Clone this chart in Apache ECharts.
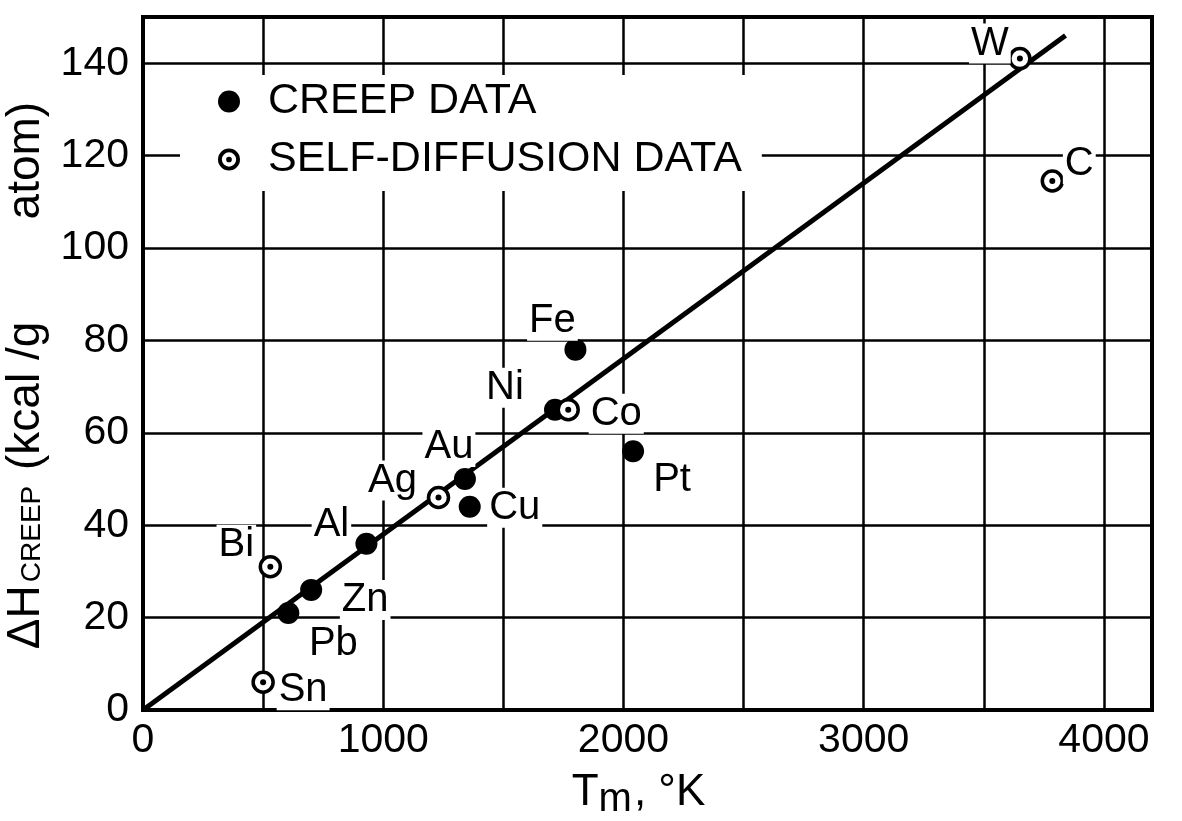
<!DOCTYPE html>
<html>
<head>
<meta charset="utf-8">
<script src="https://cdn.jsdelivr.net/npm/echarts@6/dist/echarts.min.js"></script>
<style>
  html, body { margin: 0; padding: 0; background: #fff; }
  #chart { width: 1182px; height: 821px; }
</style>
</head>
<body>
<div id="chart"></div>
<script>
// Creep activation energy vs. melting temperature
const creepMetals = ['Pb', 'Zn', 'Al', 'Au', 'Cu', 'Ni', 'Fe', 'Pt'];
const creepTm = [605, 700, 930, 1340, 1360, 1715, 1800, 2040];
const creepH = [21, 26, 36, 50, 44, 65, 78, 56];

const diffMetals = ['Sn', 'Bi', 'Ag', 'Co', 'W', 'C'];
const diffTm = [500, 530, 1230, 1770, 3650, 3785];
const diffH = [6, 31, 46, 65, 141, 114.5];

// straight-line fit through the origin
const fitTm = [0, 3840];
const fitH = [0, 146];

const xTicks = [0, 1000, 2000, 3000, 4000];
const yTicks = [0, 20, 40, 60, 80, 100, 120, 140];

// label placement relative to each marker (px)
const labelOffsets = {
  Pb: [45, 31], Zn: [54, 10], Al: [-35, -19], Au: [-16, -32], Cu: [45, 1],
  Ni: [-50, -22], Fe: [-23, -29], Pt: [39, 29],
  Sn: [40, 8], Bi: [-34, -22], Ag: [-46, -17], Co: [48, 4], W: [-30, -15], C: [27, -17]
};

const FONT = 'Liberation Sans';
const ringIcon = 'path://M10,0A10,10,0,1,1,-10,0A10,10,0,1,1,10,0Z' +
  'M6.5,0A6.5,6.5,0,1,0,-6.5,0A6.5,6.5,0,1,0,6.5,0Z' +
  'M2.6,0A2.6,2.6,0,1,1,-2.6,0A2.6,2.6,0,1,1,2.6,0Z';

function pts(names, xs, ys) {
  return names.map((n, i) => ({
    name: n,
    value: [xs[i], ys[i]],
    label: { offset: labelOffsets[n] }
  }));
}

const pointLabel = {
  show: true,
  position: 'inside',
  formatter: p => p.name,
  fontFamily: FONT,
  fontSize: 40,
  color: '#000',
  opacity: 1,
  backgroundColor: '#fff',
  padding: [0, 2, 0, 2]
};

const chart = echarts.init(document.getElementById('chart'), null, { renderer: 'canvas' });

chart.setOption({
  backgroundColor: '#fff',
  animation: false,
  grid: {
    left: 143, top: 17, right: 30, bottom: 111,
    containLabel: false,
    outerBoundsMode: 'none',
    show: true, borderColor: '#000', borderWidth: 4, backgroundColor: 'transparent'
  },
  legend: {
    left: 180, top: 75,
    orient: 'vertical',
    backgroundColor: '#fff',
    padding: [5, 20, 10, 38],
    itemWidth: 68, itemHeight: 22, itemGap: 15,
    symbolKeepAspect: true,
    textStyle: { fontFamily: FONT, fontSize: 43, color: '#000', lineHeight: 40 },
    data: [
      { name: 'CREEP DATA', icon: 'circle', itemStyle: { color: '#000', opacity: 1 } },
      { name: 'SELF-DIFFUSION DATA', icon: ringIcon, itemStyle: { color: '#000', borderWidth: 0, opacity: 1 } }
    ],
    selectedMode: false
  },
  xAxis: {
    type: 'value', min: 0, max: 4200, interval: 500,
    axisLine: { show: true, lineStyle: { color: '#000', width: 4 } },
    axisTick: { show: false },
    splitLine: { show: true, lineStyle: { color: '#000', width: 2.5 } },
    axisLabel: {
      fontFamily: FONT, fontSize: 41, color: '#000', margin: 10, lineHeight: 41,
      formatter: v => (xTicks.indexOf(v) >= 0 ? String(v) : '')
    },
    name: '{a|T}{s|m}{a|, °K}',
    nameLocation: 'middle',
    nameGap: 52,
    nameTextStyle: {
      padding: [0, 18, 0, 0],
      rich: {
        a: { fontFamily: FONT, fontSize: 44, lineHeight: 44, color: '#000', verticalAlign: 'middle' },
        s: { fontFamily: FONT, fontSize: 40, lineHeight: 26, color: '#000', verticalAlign: 'middle', padding: [14, 2, 0, 0] }
      }
    }
  },
  yAxis: {
    type: 'value', min: 0, max: 150, interval: 20,
    axisLine: { show: true, lineStyle: { color: '#000', width: 4 } },
    axisTick: { show: false },
    splitLine: { show: true, lineStyle: { color: '#000', width: 2.5 } },
    axisLabel: {
      fontFamily: FONT, fontSize: 41, color: '#000', margin: 14, padding: [10, 0, 0, 0],
      formatter: v => (yTicks.indexOf(v) >= 0 ? String(v) : '')
    },
    name: '{a|ΔH}{s|CREEP}{a| (kcal /g        atom)}',
    nameLocation: 'middle',
    nameGap: 86,
    nameTextStyle: {
      padding: [0, 24, 0, 0],
      rich: {
        a: { fontFamily: FONT, fontSize: 46, lineHeight: 46, color: '#000', verticalAlign: 'middle' },
        s: { fontFamily: FONT, fontSize: 28, lineHeight: 28, color: '#000', verticalAlign: 'middle', padding: [12, 3, 0, 3] }
      }
    }
  },
  series: [
    {
      name: 'fit',
      type: 'line',
      data: fitTm.map((t, i) => [t, fitH[i]]),
      showSymbol: false,
      symbol: 'none',
      lineStyle: { color: '#000', width: 5, opacity: 1 },
      silent: true,
      z: 1
    },
    {
      name: 'CREEP DATA',
      type: 'scatter',
      data: pts(creepMetals, creepTm, creepH),
      symbol: 'circle',
      symbolSize: 22,
      itemStyle: { color: '#000', opacity: 1 },
      label: pointLabel,
      z: 3
    },
    {
      name: 'SELF-DIFFUSION DATA',
      type: 'scatter',
      data: pts(diffMetals, diffTm, diffH),
      symbol: 'circle',
      symbolSize: 20,
      itemStyle: { color: '#fff', borderColor: '#000', borderWidth: 3.5, opacity: 1 },
      label: pointLabel,
      z: 3
    },
    {
      name: 'diffusion centre',
      type: 'scatter',
      data: diffTm.map((t, i) => [t, diffH[i]]),
      symbol: 'circle',
      symbolSize: 6,
      itemStyle: { color: '#000', opacity: 1 },
      silent: true,
      z: 4
    }
  ]
});
</script>
</body>
</html>
